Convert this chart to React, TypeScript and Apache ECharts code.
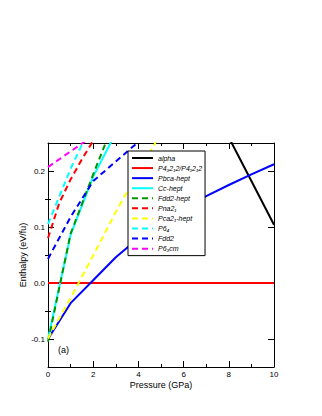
import React, { useEffect, useRef } from "react";
import * as echarts from "echarts";

// ---- data ----
const xTicks = [0, 2, 4, 6, 8, 10];
const yMajorTicks = [-0.1, 0, 0.1, 0.2];
const yMinorTicks = [-0.05, 0.05, 0.15];

const alphaP = [8, 9, 10];
const alphaH = [0.26, 0.182, 0.104];

const p43P = [0, 10];
const p43H = [0, 0];

const pbcaP = [0, 1, 2, 3, 4, 5, 6, 7, 8, 9, 10];
const pbcaH = [-0.1, -0.036, 0.005, 0.046, 0.08, 0.106, 0.131, 0.155, 0.175, 0.194, 0.212];

const ccP = [0, 1, 2, 3];
const ccH = [-0.1, 0.086, 0.19, 0.268];

const fdd2hP = [0, 1, 2, 3];
const fdd2hH = [-0.105, 0.088, 0.194, 0.296];

const pnaP = [0, 0.5, 1, 1.5, 2];
const pnaH = [0.08, 0.143, 0.185, 0.221, 0.254];

const pcaP = [0, 1, 2, 3, 4, 5];
const pcaH = [-0.099, -0.027, 0.049, 0.127, 0.198, 0.268];

const p64P = [0, 1, 2];
const p64H = [0.105, 0.204, 0.29];

const fdd2P = [0, 1, 2, 3, 4];
const fdd2H = [0.043, 0.118, 0.182, 0.217, 0.252];

const p63P = [0, 1, 2];
const p63H = [0.207, 0.235, 0.263];

const FONT = '"Liberation Sans", Arial, Helvetica, sans-serif';

function pairs(xs: number[], ys: number[]) {
  return xs.map((x, i) => [x, ys[i]]);
}

export default function App() {
  const ref = useRef<HTMLDivElement>(null);

  useEffect(() => {
    if (!ref.current) return;
    const chart = echarts.init(ref.current, null, { renderer: "svg" });
    const dash = [6, 4];
    const mk = (name: string, xs: number[], ys: number[], color: string, dashed: boolean) => ({
      type: "line",
      name,
      data: pairs(xs, ys),
      symbol: "none",
      showSymbol: false,
      clip: true,
      lineStyle: { color, width: 2, type: dashed ? dash : "solid" },
      itemStyle: { color },
      emphasis: { disabled: true },
      z: 3,
    });

    const series = [
      mk("alpha", alphaP, alphaH, "#000000", false),
      mk("P4\u20832\u20812/P4\u20812\u20812", p43P, p43H, "#ff0000", false),
      mk("Pbca-hept", pbcaP, pbcaH, "#0000ff", false),
      mk("Cc-hept", ccP, ccH, "#00ffff", false),
      mk("Fdd2-hept", fdd2hP, fdd2hH, "#009600", true),
      mk("Pna2\u2081", pnaP, pnaH, "#ff0000", true),
      mk("Pca2\u2081-hept", pcaP, pcaH, "#ffff00", true),
      mk("P6\u2084", p64P, p64H, "#00ffff", true),
      mk("Fdd2", fdd2P, fdd2H, "#0000ff", true),
      mk("P6\u2083cm", p63P, p63H, "#ff00ff", true),
    ];

    const yBase = {
      type: "value",
      min: -0.15,
      max: 0.25,
      splitLine: { show: false },
      axisLine: { show: true, onZero: false, lineStyle: { color: "#000", width: 1 } },
    };
    const xBase = {
      type: "value",
      min: 0,
      max: 10,
      interval: 2,
      splitLine: { show: false },
      axisLine: { show: true, onZero: false, lineStyle: { color: "#000", width: 1 } },
      axisTick: { show: true, inside: true, length: 6, lineStyle: { color: "#000" } },
      minorTick: { show: true, splitNumber: 2, length: 3, lineStyle: { color: "#000" } },
      minorSplitLine: { show: false },
    };

    chart.setOption({
      animation: false,
      backgroundColor: "#ffffff",
      grid: { left: 48, right: 48, top: 143, bottom: 49, containLabel: false },
      xAxis: [
        {
          ...xBase,
          position: "bottom",
          name: "Pressure (GPa)",
          nameLocation: "middle",
          nameGap: 13,
          nameMoveOverlap: false,
          nameTextStyle: { fontFamily: FONT, fontSize: 9, fontWeight: "normal", color: "#000" },
          axisLabel: {
            show: true,
            customValues: xTicks,
            margin: 3,
            fontFamily: FONT,
            fontSize: 8,
            fontWeight: "normal",
            color: "#000",
          },
        },
        {
          ...xBase,
          position: "top",
          axisLabel: { show: false },
        },
      ],
      yAxis: [
        {
          ...yBase,
          position: "left",
          name: "Enthalpy (eV/fu)",
          nameLocation: "middle",
          nameGap: 21,
          nameMoveOverlap: false,
          nameRotate: 90,
          nameTextStyle: { fontFamily: FONT, fontSize: 9, fontWeight: "normal", color: "#000" },
          axisTick: { show: true, inside: true, length: 6, customValues: yMajorTicks, lineStyle: { color: "#000" } },
          axisLabel: {
            show: true,
            customValues: yMajorTicks,
            margin: 3,
            fontFamily: FONT,
            fontSize: 8,
            fontWeight: "normal",
            color: "#000",
            formatter: (v: number) => v.toFixed(1),
          },
        },
        {
          ...yBase,
          position: "left",
          axisLine: { show: false },
          axisTick: { show: true, inside: true, length: 3, customValues: yMinorTicks, lineStyle: { color: "#000" } },
          axisLabel: { show: false },
        },
        {
          ...yBase,
          position: "right",
          axisTick: { show: true, inside: true, length: 6, customValues: yMajorTicks, lineStyle: { color: "#000" } },
          axisLabel: { show: false },
        },
        {
          ...yBase,
          position: "right",
          axisLine: { show: false },
          axisTick: { show: true, inside: true, length: 3, customValues: yMinorTicks, lineStyle: { color: "#000" } },
          axisLabel: { show: false },
        },
      ],
      legend: {
        show: true,
        orient: "vertical",
        left: 128,
        top: 151,
        padding: [2, 3, 2, 3],
        itemWidth: 21,
        itemHeight: 10,
        itemGap: 0.07,
        selectedMode: false,
        backgroundColor: "#ffffff",
        borderColor: "#000000",
        borderWidth: 1,
        borderRadius: 0,
        itemStyle: { opacity: 0 },
        textStyle: { fontFamily: FONT, fontSize: 7, fontStyle: "italic", color: "#000", lineHeight: 10 },
        data: series.map((s) => s.name),
        z: 10,
      },
      graphic: [
        {
          type: "text",
          left: 58,
          top: 345,
          style: { text: "(a)", fontFamily: FONT, fontSize: 9, fill: "#000" },
          z: 10,
        },
      ],
      series,
    });

    return () => chart.dispose();
  }, []);

  return (
    <div
      ref={ref}
      style={{ position: "fixed", left: 0, top: 0, width: 322, height: 416, background: "#fff" }}
    />
  );
}
